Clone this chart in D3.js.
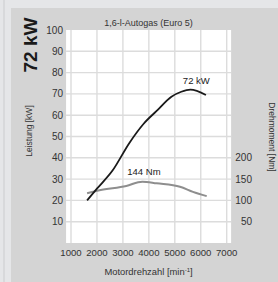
<!DOCTYPE html>
<html>
<head>
<meta charset="utf-8">
<script src="https://cdn.jsdelivr.net/npm/d3@7"></script>
<style>
  html, body { margin: 0; padding: 0; background: #e5e6e8; }
  svg { display: block; font-family: "Liberation Sans", Arial, sans-serif; }
</style>
</head>
<body>
<svg id="chart" width="278" height="282"></svg>
<script>
// engine 1,6-l Autogas (Euro 5)
const title = '1,6-l-Autogas (Euro 5)'
const powerRpm = [1620, 2000, 2600, 3250, 3800, 4300, 4870, 5250, 5600, 6200]
const powerKw = [20, 25.5, 34, 47, 56, 62, 68.7, 71, 72, 69.5]
const torqueRpm = [1620, 2100, 3130, 3750, 4300, 5200, 5700, 6230]
const torqueNm = [117, 124, 134, 144, 140, 132, 120, 110]
const rpmTicks = [1000, 2000, 3000, 4000, 5000, 6000, 7000]
const kwTicks = [10, 20, 30, 40, 50, 60, 70, 80, 90, 100]
const nmTicks = [50, 100, 150, 200]

const svg = d3.select('#chart')

// background panels
svg.append('rect').attr('x', 0).attr('y', 0).attr('width', 278).attr('height', 282).attr('fill', '#e5e6e8')
svg.append('rect').attr('x', 3).attr('y', 0).attr('width', 2).attr('height', 282).attr('fill', '#d8d9db')
svg.append('rect').attr('x', 11).attr('y', 8).attr('width', 267).attr('height', 274).attr('fill', '#d4d4d4')

let x = d3.scaleLinear().domain([1000, 7000]).range([71, 226.7])
let y = d3.scaleLinear().domain([0, 100]).range([243, 30])
let yT = d3.scaleLinear().domain([0, 500]).range([243, 30])

// plot area
svg.append('rect')
    .attr('x', x(810)).attr('y', y(100))
    .attr('width', x(7170) - x(810)).attr('height', y(0) - y(100))
    .attr('fill', '#ffffff')

// grid
svg.append('g').selectAll('line').data(rpmTicks).join('line')
    .attr('x1', d => x(d)).attr('x2', d => x(d))
    .attr('y1', y(100)).attr('y2', y(0))
    .attr('stroke', '#dcdcdc').attr('stroke-width', 1.4)
svg.append('g').selectAll('line').data(kwTicks.filter(d => d < 100)).join('line')
    .attr('x1', x(810)).attr('x2', x(7170))
    .attr('y1', d => y(d)).attr('y2', d => y(d))
    .attr('stroke', '#dcdcdc').attr('stroke-width', 1.4)

// axes as plain text
svg.append('g').selectAll('text').data(kwTicks).join('text')
    .attr('x', 63).attr('y', d => y(d)).attr('dy', '.35em')
    .attr('text-anchor', 'end').attr('font-size', 10).attr('fill', '#333')
    .text(d => d)
svg.append('g').selectAll('text').data(nmTicks).join('text')
    .attr('x', 252).attr('y', d => yT(d)).attr('dy', '.35em')
    .attr('text-anchor', 'end').attr('font-size', 10).attr('fill', '#333')
    .text(d => d)
svg.append('g').selectAll('text').data(rpmTicks).join('text')
    .attr('x', d => x(d)).attr('y', 256)
    .attr('text-anchor', 'middle').attr('font-size', 9.6).attr('fill', '#333')
    .text(d => d)

// titles
svg.append('text')
    .attr('x', 148.5).attr('y', 26).attr('text-anchor', 'middle')
    .attr('font-size', 9).attr('fill', '#333')
    .text(title)

let xt = svg.append('text')
    .attr('x', 148.5).attr('y', 275).attr('text-anchor', 'middle')
    .attr('font-size', 9.4).attr('fill', '#333')
xt.append('tspan').text('Motordrehzahl [min')
xt.append('tspan').attr('font-size', 6).attr('dy', -3).text('-1')
xt.append('tspan').attr('dy', 3).text(']')

svg.append('text')
    .attr('transform', 'translate(37,45) rotate(-90)')
    .attr('text-anchor', 'middle').attr('font-size', 19).attr('font-weight', 'bold')
    .attr('fill', '#1a1a1a')
    .text('72 kW')
svg.append('text')
    .attr('transform', 'translate(32,131) rotate(-90)')
    .attr('text-anchor', 'middle').attr('font-size', 8.5).attr('fill', '#333')
    .text('Leistung [kW]')
svg.append('text')
    .attr('transform', 'translate(269,137) rotate(90)')
    .attr('text-anchor', 'middle').attr('font-size', 8.5).attr('fill', '#333')
    .text('Drehmoment [Nm]')

// curves
let line = d3.line().curve(d3.curveMonotoneX)
svg.append('path')
    .attr('d', line(torqueRpm.map((r, i) => [x(r), yT(torqueNm[i])])))
    .attr('fill', 'none').attr('stroke', '#8e8e8e').attr('stroke-width', 2)
svg.append('path')
    .attr('d', line(powerRpm.map((r, i) => [x(r), y(powerKw[i])])))
    .attr('fill', 'none').attr('stroke', '#1a1a1a').attr('stroke-width', 1.8)

// curve labels
svg.append('text')
    .attr('x', x(5830)).attr('y', y(74.5)).attr('text-anchor', 'middle')
    .attr('font-size', 9.5).attr('fill', '#222')
    .text('72 kW')
svg.append('text')
    .attr('x', x(3810)).attr('y', yT(159)).attr('text-anchor', 'middle')
    .attr('font-size', 9.5).attr('fill', '#222')
    .text('144 Nm')
</script>
</body>
</html>
